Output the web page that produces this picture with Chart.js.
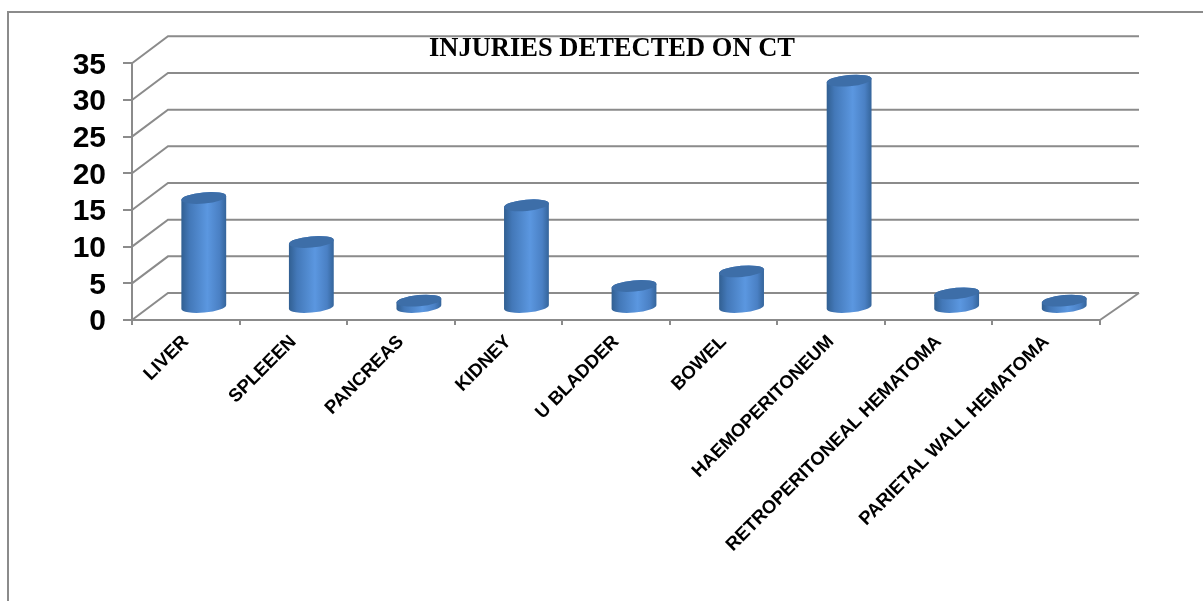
<!DOCTYPE html>
<html>
<head>
<meta charset="utf-8">
<title>Injuries detected on CT</title>
<script src="https://cdn.jsdelivr.net/npm/chart.js@4/dist/chart.umd.js"></script>
<style>
  html, body { margin: 0; padding: 0; background: #fff; overflow: hidden; }
  canvas { display: block; }
</style>
</head>
<body>
<canvas id="injuryChart" width="1203" height="601"></canvas>
<script>
// Data
const categories = ['LIVER', 'SPLEEEN', 'PANCREAS', 'KIDNEY', 'U BLADDER', 'BOWEL',
  'HAEMOPERITONEUM', 'RETROPERITONEAL HEMATOMA', 'PARIETAL WALL HEMATOMA'];
const injuryCounts = [15, 9, 1, 14, 3, 5, 31, 2, 1];
const chartTitle = 'INJURIES DETECTED ON CT';
const axisMin = 0;
const axisMax = 35;
const axisStep = 5;

// Fake 3D: how far the back wall sits from the front plane
const depthX = 36;
const depthY = -27;
const gridColor = '#8b8b8b';

// --- Cylinder bars: a normal bar element that paints itself round ---
class CylinderElement extends Chart.BarElement {
  draw(ctx) {
    const { x, y, base, width } = this.getProps(['x', 'y', 'base', 'width']);
    const cx = x + depthX / 2;
    const top = y + depthY / 2 + 1.5;
    const bottom = base + depthY / 2 + 1.5;
    const rx = width / 2;
    const ry = 5.6;
    const tilt = -0.09;

    const shade = ctx.createLinearGradient(cx - rx, 0, cx + rx, 0);
    shade.addColorStop(0, '#315f91');
    shade.addColorStop(0.18, '#4378b8');
    shade.addColorStop(0.58, '#5b97e0');
    shade.addColorStop(0.85, '#4a80c4');
    shade.addColorStop(1, '#34649a');

    ctx.save();
    ctx.beginPath();
    ctx.ellipse(cx, bottom, rx, ry, tilt, 0, Math.PI);
    ctx.ellipse(cx, top, rx, ry, tilt, Math.PI, Math.PI * 2);
    ctx.closePath();
    ctx.fillStyle = shade;
    ctx.fill();

    ctx.beginPath();
    ctx.ellipse(cx, top, rx, ry, tilt, 0, Math.PI * 2);
    ctx.fillStyle = '#3d6ea8';
    ctx.fill();
    ctx.restore();
  }
}
CylinderElement.id = 'cylinder';
CylinderElement.defaults = Chart.BarElement.defaults;

class CylinderController extends Chart.BarController {}
CylinderController.id = 'cylinder';
CylinderController.defaults = Object.assign({}, Chart.BarController.defaults, { dataElementType: 'cylinder' });
CylinderController.overrides = Chart.BarController.overrides;

Chart.register(CylinderElement, CylinderController);

// --- Outer frame, side wall and back wall ---
const wallsPlugin = {
  id: 'walls',
  beforeDatasetsDraw(chart) {
    const { ctx, chartArea, scales } = chart;
    const backRight = chartArea.right + depthX + 3;
    ctx.save();
    ctx.strokeStyle = gridColor;
    ctx.lineWidth = 2;

    // image frame, open at right and bottom
    ctx.beginPath();
    ctx.moveTo(8, chart.height);
    ctx.lineTo(8, 12);
    ctx.lineTo(chart.width, 12);
    ctx.stroke();

    scales.y.ticks.forEach((tick) => {
      const y = scales.y.getPixelForValue(tick.value);
      ctx.beginPath();
      ctx.moveTo(chartArea.left, y);
      ctx.lineTo(chartArea.left + depthX, y + depthY);
      ctx.lineTo(backRight, y + depthY);
      ctx.stroke();
    });

    // right edge of the floor
    ctx.beginPath();
    ctx.moveTo(chartArea.right, chartArea.bottom);
    ctx.lineTo(backRight, chartArea.bottom + depthY);
    ctx.stroke();
    ctx.restore();
  },
  afterLayout(chart) {
    // title sits a little left of the plot centre
    chart.titleBlock.left -= 8;
  }
};

new Chart(document.getElementById('injuryChart'), {
  type: 'cylinder',
  data: {
    labels: categories,
    datasets: [{
      label: 'Injuries',
      data: injuryCounts,
      barThickness: 45,
      clip: false
    }]
  },
  options: {
    responsive: false,
    animation: false,
    layout: {
      autoPadding: false,
      padding: { top: 36, right: 103, bottom: 0, left: 0 }
    },
    plugins: {
      legend: { display: false },
      tooltip: { enabled: false },
      title: {
        display: true,
        text: chartTitle,
        fullSize: false,
        color: '#000',
        padding: 0,
        font: { family: "'Liberation Serif', serif", size: 26.5, weight: 'bold', lineHeight: 1.03 }
      }
    },
    scales: {
      x: {
        afterFit: (scale) => { scale.height = 281; },
        border: { color: gridColor, width: 2 },
        grid: { drawOnChartArea: false, color: gridColor, lineWidth: 2, tickLength: 5 },
        ticks: {
          autoSkip: false,
          minRotation: 45,
          maxRotation: 45,
          padding: 6,
          color: '#000',
          font: { family: "'Liberation Sans', sans-serif", size: 18.5, weight: 'bold' }
        }
      },
      y: {
        min: axisMin,
        max: axisMax,
        afterFit: (scale) => { scale.width = 132; },
        border: { color: gridColor, width: 2 },
        grid: { drawOnChartArea: false, color: gridColor, lineWidth: 2, tickLength: 9 },
        ticks: {
          stepSize: axisStep,
          autoSkip: false,
          padding: 17,
          labelOffset: 2,
          color: '#000',
          font: { family: "'Liberation Sans', sans-serif", size: 30, weight: 'bold' }
        }
      }
    }
  },
  plugins: [wallsPlugin]
});
</script>
</body>
</html>
